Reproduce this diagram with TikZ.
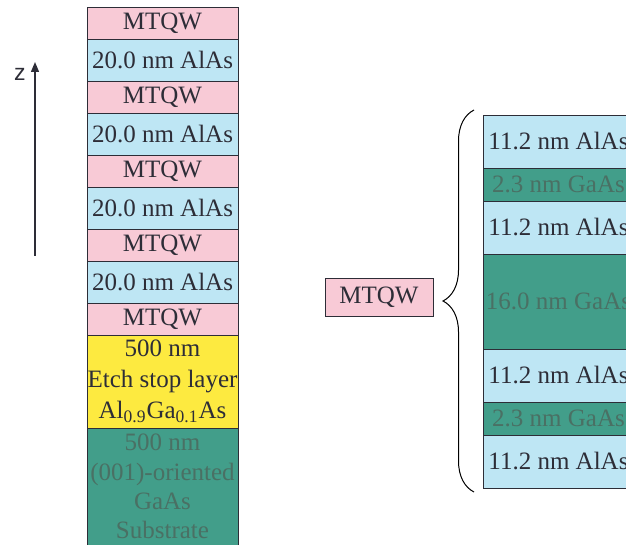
\documentclass[tikz,border=0pt]{standalone}
\usepackage{fontspec}
\setmainfont{Liberation Serif}
\newfontfamily\axisfont{Liberation Sans}
\usepackage{tikz}
\usetikzlibrary{positioning, arrows.meta, decorations.pathreplacing}

\definecolor{qwpink}{RGB}{248,202,214}
\definecolor{alasblue}{RGB}{190,230,244}
\definecolor{etchyellow}{RGB}{253,234,64}
\definecolor{gaasteal}{RGB}{66,158,138}
\definecolor{gaastext}{RGB}{74,112,100}
\definecolor{inkgray}{RGB}{45,45,55}

\begin{document}
\begin{tikzpicture}[
  x=0.5pt, y=-0.5pt,
  font=\fontsize{12.5}{15.5}\selectfont,
  layer/.style={draw=inkgray, line width=0.4pt, minimum width=75.5pt,
                inner sep=0pt, outer sep=0pt, align=center, text=inkgray},
  mtqw/.style={layer, fill=qwpink, minimum height=16pt},
  alas/.style={layer, fill=alasblue, minimum height=21pt},
  etch/.style={layer, fill=etchyellow, minimum height=46.5pt},
  subs/.style={layer, fill=gaasteal, text=gaastext, minimum height=58.5pt,
               font=\fontsize{12.5}{14.6}\selectfont},
  wide/.style={layer, fill=alasblue, minimum height=26.5pt},
  well/.style={layer, fill=gaasteal, text=gaastext, minimum height=16.5pt},
  thick/.style={well, minimum height=47.5pt},
  zarrow/.style={-{Triangle[length=5pt, width=4pt]}, line width=0.7pt, draw=inkgray},
  brace/.style={decorate, decoration={brace, amplitude=15.5pt}, line width=0.5pt},
]
\useasboundingbox (0,0) rectangle (626,545);

% growth stack
\node[mtqw, anchor=north] (q1) at (162.5,7) {MTQW};
\node[alas, below=0pt of q1] (b1) {20.0 nm AlAs};
\node[mtqw, below=0pt of b1] (q2) {MTQW};
\node[alas, below=0pt of q2] (b2) {20.0 nm AlAs};
\node[mtqw, below=0pt of b2] (q3) {MTQW};
\node[alas, below=0pt of q3] (b3) {20.0 nm AlAs};
\node[mtqw, below=0pt of b3] (q4) {MTQW};
\node[alas, below=0pt of q4] (b4) {20.0 nm AlAs};
\node[mtqw, below=0pt of b4] (q5) {MTQW};
\node[etch, below=0pt of q5] (stop)
  {500 nm\\Etch stop layer\\Al\textsubscript{0.9}Ga\textsubscript{0.1}As};
\node[subs, below=0pt of stop] (sub)
  {500 nm\\(001)-oriented\\GaAs\\Substrate};

% growth direction
\coordinate (zlo) at (35,256);
\coordinate (zhi) at (35,62);
\draw[zarrow] (zlo) -- (zhi);
\node[font=\axisfont\fontsize{11.5}{12}\selectfont, text=inkgray] (zlab) at (20,74) {z};

% quantum well detail
\node[mtqw, minimum width=54pt, minimum height=19pt] (key) at (379,297) {MTQW};
\node[wide, anchor=north] (r1) at (558.5,115) {11.2 nm AlAs};
\node[well, below=0pt of r1] (r2) {2.3 nm GaAs};
\node[wide, below=0pt of r2] (r3) {11.2 nm AlAs};
\node[thick, below=0pt of r3] (r4) {16.0 nm GaAs};
\node[wide, below=0pt of r4] (r5) {11.2 nm AlAs};
\node[well, below=0pt of r5] (r6) {2.3 nm GaAs};
\node[wide, below=0pt of r6] (r7) {11.2 nm AlAs};
\draw[brace] ([shift={(-4.5pt,-2pt)}]r7.south west)
  -- ([shift={(-4.5pt,2.5pt)}]r1.north west);
\end{tikzpicture}
\end{document}
